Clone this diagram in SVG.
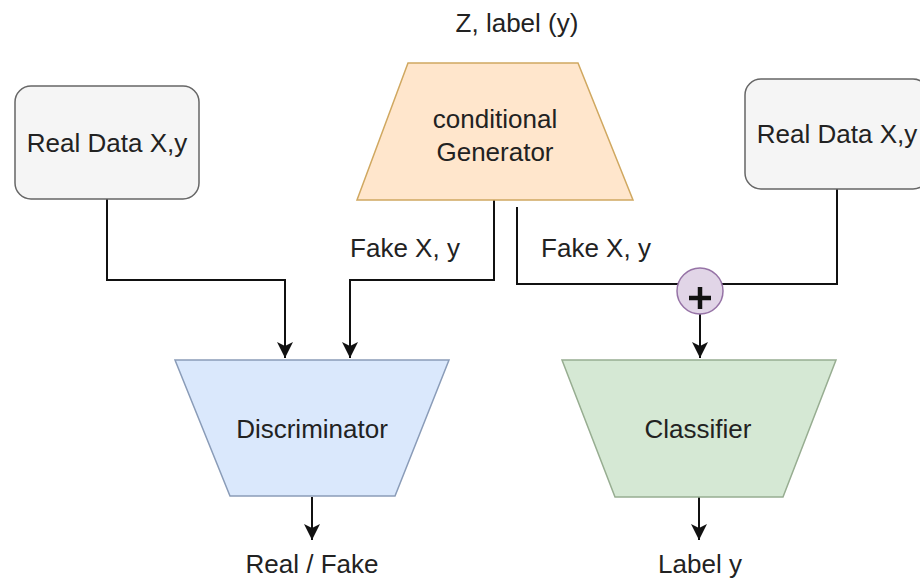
<svg xmlns="http://www.w3.org/2000/svg" width="920" height="583" viewBox="0 0 920 583">
  <style>
    .t { font-family: "Liberation Sans", Arial, Helvetica, sans-serif; font-size: 26px; fill: #222; text-anchor: middle; }
    .edge { fill: none; stroke: #111; stroke-width: 2; }
    .box { fill: #f5f5f5; stroke: #666666; stroke-width: 1.5; }
  </style>
  <defs>
    <marker id="arr" viewBox="0 0 16 16" refX="16" refY="8" markerWidth="16" markerHeight="16" markerUnits="userSpaceOnUse" orient="auto">
      <path d="M0,0 L16,8 L0,16 L4,8 Z" fill="#111"/>
    </marker>
  </defs>
  <rect width="920" height="583" fill="#ffffff"/>

  <g id="connectors">
    <path class="edge" d="M107,199 V280 H285 V358" marker-end="url(#arr)"/>
    <path class="edge" d="M494,200 V280 H350 V358" marker-end="url(#arr)"/>
    <path class="edge" d="M517,207 V284 H680"/>
    <path class="edge" d="M837,189 V284 H720"/>
    <path class="edge" d="M700,314 V358" marker-end="url(#arr)"/>
    <path class="edge" d="M312,497 V540" marker-end="url(#arr)"/>
    <path class="edge" d="M699,497 V540" marker-end="url(#arr)"/>
  </g>

  <g id="real-data-left">
    <rect class="box" x="15" y="86" width="184" height="113" rx="16" ry="16"/>
    <text class="t" x="107" y="152">Real Data X,y</text>
  </g>

  <g id="real-data-right">
    <rect class="box" x="745" y="79" width="184" height="110" rx="16" ry="16"/>
    <text class="t" x="837" y="143">Real Data X,y</text>
  </g>

  <g id="generator">
    <polygon points="408,63 578,63 633,200 357,200" fill="#ffe6cc" stroke="#d0a860" stroke-width="1.5"/>
    <text class="t" x="495" y="128">conditional</text>
    <text class="t" x="495" y="161">Generator</text>
  </g>

  <g id="input-label">
    <text class="t" x="517" y="32">Z, label (y)</text>
  </g>

  <g id="fake-label-left">
    <text class="t" x="405" y="257">Fake X, y</text>
  </g>
  <g id="fake-label-right">
    <text class="t" x="596" y="257">Fake X, y</text>
  </g>

  <g id="sum">
    <circle cx="700" cy="291" r="23" fill="#e1d5e7" stroke="#9673a6" stroke-width="1.5"/>
    <path d="M689,298 H711 M700,287 V309" stroke="#111" stroke-width="4.5" fill="none"/>
  </g>

  <g id="discriminator">
    <polygon points="175,360 449,360 395,496 230,496" fill="#dae8fc" stroke="#8a9cb8" stroke-width="1.5"/>
    <text class="t" x="312" y="438">Discriminator</text>
  </g>

  <g id="classifier">
    <polygon points="562,360 836,360 783,497 615,497" fill="#d5e8d4" stroke="#97ad91" stroke-width="1.5"/>
    <text class="t" x="698" y="438">Classifier</text>
  </g>

  <g id="output-left">
    <text class="t" x="312" y="573">Real / Fake</text>
  </g>
  <g id="output-right">
    <text class="t" x="700" y="573">Label y</text>
  </g>
</svg>
